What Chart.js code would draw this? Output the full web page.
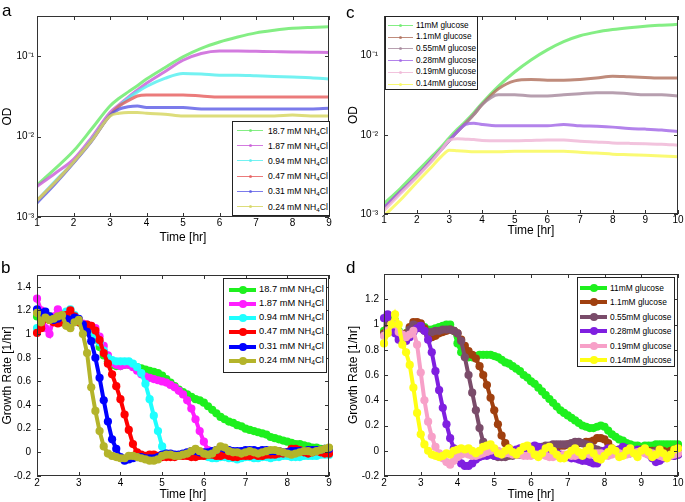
<!DOCTYPE html>
<html><head><meta charset="utf-8">
<script src="https://cdn.jsdelivr.net/npm/chart.js@4.4.1/dist/chart.umd.min.js"></script>
<style>
body{margin:0;background:#fff;width:685px;height:502px;position:relative;overflow:hidden;font-family:"Liberation Sans",Arial,sans-serif;color:#000;}
canvas{position:absolute;}
.plabel{position:absolute;font-size:17px;line-height:1;}
.leg{position:absolute;background:#fff;border:1px solid #222;box-sizing:border-box;}
.leg sub{font-size:72%;vertical-align:-0.3em;line-height:0;}
</style></head><body>
<canvas id="ca" width="340" height="250" style="left:0;top:0"></canvas>
<canvas id="cc" width="345" height="250" style="left:340px;top:0"></canvas>
<canvas id="cb" width="340" height="252" style="left:0;top:250px"></canvas>
<canvas id="cd" width="345" height="252" style="left:340px;top:250px"></canvas>
<div class="plabel" style="left:2px;top:2px">a</div>
<div class="plabel" style="left:346px;top:4px">c</div>
<div class="plabel" style="left:1px;top:259px">b</div>
<div class="plabel" style="left:346px;top:259px">d</div>
<script>
// ---------- DATA ----------
const labelsN = ['18.7 mM NH4Cl','1.87 mM NH4Cl','0.94 mM NH4Cl','0.47 mM NH4Cl','0.31 mM NH4Cl','0.24 mM NH4Cl'];
const labelsG = ['11mM glucose','1.1mM glucose','0.55mM glucose','0.28mM glucose','0.19mM glucose','0.14mM glucose'];

// panel a: OD vs time (NH4Cl)
const timesA = [1,1.5,2,2.5,3,3.25,3.5,3.75,4,4.5,5,5.5,6,6.5,7,7.5,8,8.5,9];
const odA_18_7 = [0.0025,0.0040,0.0066,0.0125,0.024,0.030,0.036,0.043,0.052,0.072,0.098,0.125,0.150,0.173,0.195,0.210,0.222,0.228,0.232];
const odA_1_87 = [0.0024,0.0035,0.0052,0.0098,0.020,0.025,0.031,0.038,0.046,0.064,0.089,0.108,0.116,0.116,0.115,0.114,0.113,0.112,0.111];
const odA_0_94 = [0.0016,0.0028,0.0048,0.0092,0.0185,0.024,0.030,0.036,0.042,0.053,0.061,0.060,0.058,0.058,0.057,0.056,0.055,0.054,0.052];
const odA_0_47 = [0.0016,0.0027,0.0048,0.0090,0.0185,0.024,0.028,0.032,0.033,0.033,0.033,0.032,0.031,0.031,0.031,0.031,0.031,0.031,0.031];
const odA_0_31 = [0.0015,0.0026,0.0047,0.0088,0.0183,0.022,0.0235,0.024,0.023,0.023,0.023,0.022,0.022,0.022,0.022,0.022,0.022,0.022,0.0225];
const odA_0_24 = [0.0016,0.0027,0.0048,0.0089,0.0180,0.0195,0.020,0.020,0.0195,0.019,0.018,0.018,0.018,0.018,0.018,0.018,0.0185,0.018,0.018];

// panel c: OD vs time (glucose)
const timesC = [1,1.5,2,2.5,2.75,3,3.25,3.5,3.75,4,4.5,5,5.5,6,6.5,7,7.5,8,8.5,9,9.5,10];
const odC_11 = [0.00135,0.0021,0.0034,0.0055,0.0070,0.0092,0.0118,0.0148,0.019,0.025,0.041,0.062,0.088,0.118,0.150,0.178,0.198,0.213,0.225,0.235,0.242,0.248];
const odC_1_1 = [0.0012,0.0019,0.0030,0.0050,0.0065,0.0085,0.011,0.014,0.018,0.024,0.038,0.048,0.050,0.049,0.049,0.050,0.052,0.055,0.054,0.053,0.052,0.052];
const odC_0_55 = [0.0012,0.0019,0.0030,0.0050,0.0065,0.0085,0.011,0.014,0.018,0.024,0.032,0.032,0.031,0.031,0.032,0.033,0.034,0.034,0.033,0.032,0.032,0.031];
const odC_0_28 = [0.0012,0.0019,0.0030,0.0050,0.0065,0.0085,0.011,0.0135,0.014,0.0135,0.013,0.013,0.013,0.013,0.0135,0.013,0.0128,0.0125,0.012,0.0118,0.0115,0.011];
const odC_0_19 = [0.0011,0.0018,0.0029,0.0048,0.0064,0.0085,0.0089,0.0088,0.0087,0.0085,0.0084,0.0084,0.0085,0.0086,0.0086,0.0083,0.0081,0.0079,0.0078,0.0077,0.0076,0.0074];
const odC_0_14 = [0.00095,0.0015,0.0025,0.0041,0.0053,0.0064,0.0063,0.0062,0.0061,0.0061,0.0061,0.0062,0.0062,0.0062,0.0062,0.0060,0.0059,0.0057,0.0056,0.0055,0.0054,0.0053];

// panel b: growth rate (NH4Cl)
const timesB = [2.0,2.1,2.2,2.3,2.4,2.5,2.6,2.7,2.8,2.9,3.0,3.1,3.2,3.3,3.4,3.5,3.6,3.7,3.8,3.9,4.0,4.1,4.2,4.3,4.4,4.5,4.6,4.7,4.8,4.9,5.0,5.1,5.2,5.3,5.4,5.5,5.6,5.7,5.8,5.9,6.0,6.1,6.2,6.3,6.4,6.5,6.6,6.7,6.8,6.9,7.0,7.1,7.2,7.3,7.4,7.5,7.6,7.7,7.8,7.9,8.0,8.1,8.2,8.3,8.4,8.5,8.6,8.7,8.8,8.9,9.0];
const rateB_18_7 = [1.15,1.16,1.17,1.15,1.14,1.15,1.16,1.17,1.16,1.13, 1.10,1.07,1.05,1.02,0.96,0.89,0.82,0.77,0.74,0.73, 0.73,0.74,0.74,0.73,0.72,0.71,0.70,0.69,0.68,0.67, 0.65,0.62,0.59,0.56,0.53,0.51,0.49,0.47,0.45,0.44, 0.42,0.39,0.36,0.33,0.30,0.28,0.26,0.25,0.23,0.22, 0.20,0.19,0.18,0.17,0.16,0.15,0.13,0.12,0.11,0.10, 0.09,0.08,0.07,0.07,0.06,0.05,0.04,0.04,0.03,0.03, 0.03];
const rateB_1_87 = [1.30,1.20,1.05,1.00,1.15,1.21,1.17,1.10,1.13,1.15, 1.12,1.09,1.08,1.07,1.05,0.98,0.90,0.82,0.76,0.74, 0.73,0.74,0.74,0.72,0.69,0.66,0.64,0.63,0.62,0.61, 0.60,0.59,0.57,0.55,0.52,0.49,0.44,0.37,0.28,0.18, 0.09,0.02,-0.01,-0.01,0.00,0.01,0.00,-0.01,-0.02,-0.01, 0.00,0.01,0.01,0.00,-0.01,-0.01,0.00,0.00,-0.01,-0.01, 0.00,0.01,0.00,-0.01,0.00,0.00,0.01,0.01,0.00,0.01, 0.02];
const rateB_0_94 = [1.05,1.12,1.15,1.13,1.12,1.12,1.14,1.19,1.21,1.16, 1.10,1.07,1.05,1.03,0.99,0.93,0.86,0.80,0.78,0.77, 0.77,0.77,0.77,0.75,0.72,0.67,0.58,0.45,0.31,0.18, 0.05,-0.01,-0.02,-0.03,-0.03,-0.02,-0.02,-0.03,-0.03,-0.02, -0.03,-0.04,-0.05,-0.05,-0.04,-0.04,-0.05,-0.05,-0.06,-0.05, -0.04,-0.04,-0.05,-0.05,-0.04,-0.04,-0.05,-0.04,-0.04,-0.03, -0.03,-0.04,-0.04,-0.04,-0.03,-0.03,-0.03,-0.03,-0.02,-0.02, -0.02];
const rateB_0_47 = [1.01,1.05,1.13,1.12,1.10,1.09,1.10,1.16,1.20,1.15, 1.10,1.07,1.08,1.07,1.03,0.95,0.84,0.75,0.66,0.56, 0.45,0.32,0.19,0.07,0.00,-0.02,-0.03,-0.02,-0.02,-0.03, -0.04,-0.04,-0.04,-0.04,-0.03,-0.03,-0.03,-0.04,-0.04,-0.03, -0.03,-0.02,-0.02,-0.03,-0.03,-0.02,-0.03,-0.04,-0.04,-0.03, -0.03,-0.03,-0.02,-0.03,-0.03,-0.02,-0.02,-0.02,-0.01,-0.01, 0.00,0.03,0.03,0.02,0.00,-0.01,0.00,0.01,0.00,-0.01, -0.01];
const rateB_0_31 = [1.21,1.18,1.19,1.15,1.12,1.13,1.15,1.13,1.12,1.14, 1.13,1.08,1.02,0.94,0.80,0.63,0.44,0.26,0.11,0.03, -0.04,-0.07,-0.06,-0.05,-0.04,-0.04,-0.05,-0.05,-0.05,-0.04, -0.02,-0.01,-0.01,-0.02,-0.02,-0.01,0.00,0.01,0.01,0.00, 0.00,0.00,0.01,0.02,0.04,0.03,0.02,0.01,0.01,0.01, 0.02,0.02,0.02,0.01,0.02,0.02,0.01,0.01,0.01,0.00, 0.00,0.01,0.01,0.01,0.01,0.02,0.02,0.02,0.02,0.03, 0.03];
const rateB_0_24 = [1.18,1.10,1.14,1.12,1.13,1.15,1.16,1.07,1.05,1.10, 1.12,1.00,0.84,0.55,0.35,0.18,0.05,-0.01,-0.03,-0.04, -0.05,-0.05,-0.03,-0.03,-0.04,-0.05,-0.06,-0.07,-0.07,-0.06, -0.03,-0.02,-0.02,-0.03,-0.03,-0.02,-0.01,0.01,0.03,0.01, -0.01,-0.02,-0.01,0.02,0.05,0.04,0.01,0.00,0.00,-0.01, 0.00,0.01,0.00,-0.01,0.00,0.01,0.02,0.02,0.01,0.00, -0.01,-0.02,-0.01,0.00,0.01,0.01,0.00,0.01,0.02,0.03, 0.04];

// panel d: growth rate (glucose)
const timesD = [2.0,2.1,2.2,2.3,2.4,2.5,2.6,2.7,2.8,2.9,3.0,3.1,3.2,3.3,3.4,3.5,3.6,3.7,3.8,3.9,4.0,4.1,4.2,4.3,4.4,4.5,4.6,4.7,4.8,4.9,5.0,5.1,5.2,5.3,5.4,5.5,5.6,5.7,5.8,5.9,6.0,6.1,6.2,6.3,6.4,6.5,6.6,6.7,6.8,6.9,7.0,7.1,7.2,7.3,7.4,7.5,7.6,7.7,7.8,7.9,8.0,8.1,8.2,8.3,8.4,8.5,8.6,8.7,8.8,8.9,9.0,9.1,9.2,9.3,9.4,9.5,9.6,9.7,9.8,9.9,10.0];
const rateD_11 = [0.95,1.02,1.05,1.03,0.95,0.92,0.93,0.97,1.00,1.01, 1.00,0.98,0.96,0.96,0.97,0.98,0.99,1.00,1.00,0.95, 0.85,0.78,0.75,0.74,0.74,0.75,0.76,0.76,0.76,0.76, 0.75,0.74,0.72,0.70,0.69,0.67,0.65,0.63,0.60,0.58, 0.55,0.53,0.50,0.47,0.44,0.41,0.38,0.35,0.32,0.30, 0.28,0.26,0.24,0.22,0.20,0.19,0.18,0.18,0.19,0.20, 0.19,0.16,0.13,0.11,0.09,0.08,0.06,0.05,0.04,0.04, 0.03,0.04,0.04,0.04,0.05,0.05,0.05,0.05,0.05,0.05, 0.05];
const rateD_1_1 = [0.93,0.98,1.00,0.97,0.92,0.90,0.93,0.98,1.02,1.02, 1.01,0.97,0.92,0.90,0.91,0.93,0.94,0.95,0.96,0.95, 0.93,0.88,0.83,0.79,0.76,0.73,0.67,0.60,0.52,0.42, 0.32,0.21,0.12,0.06,0.02,-0.01,-0.03,-0.03,-0.03,-0.02, -0.02,-0.01,0.00,0.00,0.01,0.02,0.03,0.03,0.04,0.04, 0.05,0.05,0.06,0.06,0.06,0.07,0.07,0.08,0.10,0.10, 0.09,0.06,0.02,0.00,-0.01,-0.02,-0.02,-0.01,0.00,0.00, 0.01,0.01,0.00,0.00,0.00,0.01,0.00,-0.01,0.00,0.01, 0.02];
const rateD_0_55 = [0.92,1.00,1.02,0.98,0.93,0.90,0.92,0.96,1.00,0.99, 0.97,0.95,0.94,0.94,0.95,0.95,0.96,0.96,0.96,0.95, 0.93,0.87,0.74,0.60,0.46,0.32,0.18,0.07,0.02,-0.02, -0.04,-0.05,-0.05,-0.05,-0.04,-0.04,-0.03,-0.03,-0.02,-0.01, 0.00,0.01,0.02,0.03,0.04,0.04,0.05,0.05,0.05,0.05, 0.05,0.06,0.07,0.07,0.06,0.05,0.04,0.02,0.01,0.00, 0.00,-0.01,-0.01,0.00,0.01,0.00,-0.01,-0.02,-0.01,0.00, 0.00,-0.01,-0.02,-0.01,0.00,-0.01,-0.02,-0.03,-0.04,-0.04, -0.03];
const rateD_0_28 = [1.05,1.08,1.00,0.93,0.88,0.86,0.87,0.90,0.94,0.97, 0.99,0.95,0.88,0.78,0.63,0.48,0.34,0.21,0.10,0.02, -0.05,-0.10,-0.12,-0.12,-0.10,-0.07,-0.05,-0.04,-0.04,-0.03, -0.04,-0.04,-0.03,-0.02,-0.01,0.00,0.01,0.02,0.01,0.02, 0.03,0.04,0.03,0.02,0.01,0.00,0.00,-0.02,-0.03,-0.04, -0.05,-0.06,-0.06,-0.07,-0.08,-0.08,-0.09,-0.10,-0.10,-0.05, 0.00,0.02,0.01,0.00,0.01,0.03,0.02,0.00,0.00,0.01, 0.00,-0.01,-0.03,-0.06,-0.09,-0.08,-0.06,-0.05,-0.04,-0.04, -0.03];
const rateD_0_19 = [0.91,0.95,1.00,1.00,0.94,0.92,0.90,0.92,0.95,0.84, 0.62,0.40,0.23,0.11,0.03,-0.02,-0.06,-0.09,-0.11,-0.08, -0.05,-0.03,-0.02,-0.03,-0.04,-0.04,-0.03,-0.02,-0.01,0.00, 0.01,0.00,-0.01,-0.02,-0.02,-0.03,-0.03,-0.03,-0.04,-0.04, -0.04,-0.03,-0.03,-0.03,-0.04,-0.05,-0.05,-0.04,-0.04,-0.03, -0.03,-0.04,-0.04,-0.03,-0.02,-0.02,-0.03,-0.03,-0.02,-0.02, -0.03,-0.04,-0.03,-0.02,-0.02,-0.03,-0.03,-0.02,-0.02,-0.01, -0.01,-0.02,-0.03,-0.02,-0.03,-0.04,-0.05,-0.05,-0.04,-0.03, -0.02];
const rateD_0_14 = [0.85,0.93,1.00,1.08,1.00,0.84,0.78,0.68,0.50,0.30, 0.13,0.05,0.00,-0.03,-0.04,-0.05,-0.04,-0.02,-0.03,0.00, 0.01,0.02,0.01,0.02,0.00,-0.02,0.00,0.03,0.04,0.05, 0.02,-0.02,-0.03,0.00,0.02,-0.01,-0.03,0.00,0.03,0.04, 0.01,-0.03,-0.05,-0.02,0.02,0.03,0.00,-0.03,-0.06,-0.06, -0.03,0.00,0.02,-0.01,-0.04,0.00,0.03,-0.02,-0.06,-0.07, -0.04,-0.01,0.02,0.00,-0.05,-0.04,0.00,0.02,-0.02,-0.05, 0.00,0.02,-0.01,-0.05,-0.03,0.01,-0.02,-0.06,-0.03,0.01, 0.02];

// tick values / labels
const timeTicksA = [1,2,3,4,5,6,7,8,9];
const timeTicksC = [1,2,3,4,5,6,7,8,9,10];
const timeTicksB = [2,3,4,5,6,7,8,9];
const timeTicksD = [2,3,4,5,6,7,8,9,10];
const odTicks = [0.001,0.01,0.1];
const odTickLabels = ['10\u207B\u00B3','10\u207B\u00B2','10\u207B\u00B9'];
const rateTicksB = [-0.2,0,0.2,0.4,0.6,0.8,1,1.2,1.4];
const rateTicksD = [-0.2,0,0.2,0.4,0.6,0.8,1,1.2];

// ---------- STYLE ----------
const colA = ['rgba(110,235,110,0.85)','rgba(200,90,215,0.8)','rgba(90,240,240,0.85)','rgba(230,90,90,0.8)','rgba(90,90,230,0.8)','rgba(215,215,100,0.85)'];
const colC = ['rgba(110,235,110,0.85)','rgba(175,110,90,0.8)','rgba(165,135,155,0.8)','rgba(160,100,230,0.8)','rgba(240,185,215,0.85)','rgba(250,250,100,0.9)'];
const colB = ['#1ef01e','#ff1eff','#1effff','#ff0000','#0000ff','#b4b42a'];
const colD = ['#1ef01e','#a0400f','#7a4c6a','#7f1fe0','#f7a0c8','#ffff14'];

Chart.defaults.font.family = "'Liberation Sans', Arial, sans-serif";
Chart.defaults.color = '#000';

const framePlugin = {
  id:'frame',
  afterDraw(chart){
    const {ctx, chartArea:a, scales:{x,y}} = chart;
    ctx.save();
    ctx.strokeStyle = '#333'; ctx.lineWidth = 1;
    ctx.strokeRect(Math.round(a.left)+0.5, Math.round(a.top)+0.5, Math.round(a.right-a.left)-1, Math.round(a.bottom-a.top)-1);
    const L = 4;
    ctx.beginPath();
    x.ticks.forEach(t=>{const p=Math.round(x.getPixelForValue(t.value))+0.5; ctx.moveTo(p,a.bottom); ctx.lineTo(p,a.bottom-L); ctx.moveTo(p,a.top); ctx.lineTo(p,a.top+L);});
    y.ticks.forEach(t=>{const p=Math.round(y.getPixelForValue(t.value))+0.5; ctx.moveTo(a.left,p); ctx.lineTo(a.left+L,p); ctx.moveTo(a.right,p); ctx.lineTo(a.right-L,p);});
    ctx.stroke();
    ctx.restore();
  }
};

function panel(id, o){
  const datasets = o.series.map((vals,i)=>({
    label:o.labels[i],
    data: vals.map((v,j)=>({x:o.times[j], y:v})),
    borderColor:o.colors[i], backgroundColor:o.colors[i], pointBackgroundColor:o.colors[i],
    borderWidth:o.lw, pointRadius:o.pr, pointBorderWidth:0, pointHoverRadius:o.pr,
    tension:o.tension, cubicInterpolationMode:o.cubic || 'default',
    order:o.series.length - i, clip:o.clip
  }));
  return new Chart(document.getElementById(id), {
    type:'line',
    data:{datasets},
    options:{
      responsive:false, animation:false, devicePixelRatio:1,
      layout:{padding:o.pad},
      plugins:{legend:{display:false}, tooltip:{enabled:false}},
      scales:{
        x:{type:'linear', min:o.xmin, max:o.xmax,
          afterBuildTicks(s){ s.ticks = o.xticks.map(v=>({value:v})); },
          ticks:{callback:(v)=>String(v), padding:o.xpad, font:{size:10}, maxRotation:0, autoSkip:false, color:'#000'},
          grid:{display:false, drawTicks:false}, border:{display:false},
          title:{display:true, text:'Time [hr]', font:{size:12}, color:'#000', padding:{top:0,bottom:o.xtp}},
          afterFit(s){ s.height = o.xH; }
        },
        y:{type:o.ytype, min:o.ymin, max:o.ymax,
          afterBuildTicks(s){ s.ticks = o.yticks.map(v=>({value:v})); },
          ticks:{callback:(v,i)=>o.ylabels[i], padding:o.ypad, font:{size:10}, autoSkip:false, color:'#000'},
          grid:{display:false, drawTicks:false}, border:{display:false},
          title:{display:true, text:o.ytitle, font:{size:12}, color:'#000', padding:{top:o.ytp,bottom:0}},
          afterFit(s){ s.width = o.yW; }
        }
      }
    },
    plugins:[framePlugin]
  });
}

panel('ca', {times:timesA, series:[odA_18_7,odA_1_87,odA_0_94,odA_0_47,odA_0_31,odA_0_24], labels:labelsN, colors:colA,
  lw:3, pr:0, tension:0.4, cubic:'monotone', clip:0,
  pad:{left:0,top:16,right:11,bottom:0}, xmin:1, xmax:9, xticks:timeTicksA, xpad:0, xtp:5, xH:33,
  ytype:'logarithmic', ymin:0.001, ymax:Math.pow(10,-0.5), yticks:odTicks, ylabels:odTickLabels, ypad:3, ytitle:'OD', ytp:0, yW:37});

panel('cc', {times:timesC, series:[odC_11,odC_1_1,odC_0_55,odC_0_28,odC_0_19,odC_0_14], labels:labelsG, colors:colC,
  lw:3, pr:0, tension:0.4, cubic:'monotone', clip:0,
  pad:{left:0,top:16,right:7,bottom:0}, xmin:1, xmax:10, xticks:timeTicksC, xpad:0, xtp:12, xH:36,
  ytype:'logarithmic', ymin:0.001, ymax:Math.pow(10,-0.5), yticks:odTicks, ylabels:odTickLabels, ypad:6, ytitle:'OD', ytp:6, yW:44});

panel('cb', {times:timesB, series:[rateB_18_7,rateB_1_87,rateB_0_94,rateB_0_47,rateB_0_31,rateB_0_24], labels:labelsN, colors:colB,
  lw:4, pr:4.1, tension:0, clip:4,
  pad:{left:0,top:25,right:11,bottom:0}, xmin:2, xmax:9, xticks:timeTicksB, xpad:1, xtp:0, xH:26,
  ytype:'linear', ymin:-0.2, ymax:1.5, yticks:rateTicksB, ylabels:rateTicksB.map(String), ypad:6, ytitle:'Growth Rate [1/hr]', ytp:0, yW:37});

panel('cd', {times:timesD, series:[rateD_11,rateD_1_1,rateD_0_55,rateD_0_28,rateD_0_19,rateD_0_14], labels:labelsG, colors:colD,
  lw:4, pr:4.1, tension:0, clip:4,
  pad:{left:0,top:24,right:7,bottom:0}, xmin:2, xmax:10, xticks:timeTicksD, xpad:1, xtp:0, xH:26,
  ytype:'linear', ymin:-0.2, ymax:1.4, yticks:rateTicksD, ylabels:rateTicksD.map(String), ypad:5, ytitle:'Growth Rate [1/hr]', ytp:6, yW:44});

// ---------- LEGENDS (HTML, built from label / colour arrays) ----------
function legend(cfg){
  const box = document.createElement('div');
  box.className = 'leg';
  box.style.cssText = `left:${cfg.left}px;top:${cfg.top}px;width:${cfg.width}px;height:${cfg.height}px;`;
  cfg.labels.forEach((lab,i)=>{
    const cy = cfg.first + i*cfg.step;
    const line = document.createElement('div');
    line.style.cssText = `position:absolute;left:${cfg.x0}px;width:${cfg.x1-cfg.x0}px;top:${cy-cfg.lw/2}px;height:${cfg.lw}px;background:${cfg.colors[i]};`;
    box.appendChild(line);
    const dot = document.createElement('div');
    const cx = (cfg.x0+cfg.x1)/2;
    dot.style.cssText = `position:absolute;left:${cx-cfg.dot/2}px;top:${cy-cfg.dot/2}px;width:${cfg.dot}px;height:${cfg.dot}px;border-radius:50%;background:${cfg.colors[i]};`;
    box.appendChild(dot);
    const t = document.createElement('div');
    t.style.cssText = `position:absolute;left:${cfg.tx}px;top:${cy}px;transform:translateY(-50%);font-size:${cfg.font}px;line-height:1;white-space:nowrap;`;
    t.innerHTML = lab.replace('NH4Cl','NH<sub>4</sub>Cl');
    box.appendChild(t);
  });
  document.body.appendChild(box);
}
legend({left:232, top:121, width:98, height:95, first:8.5, step:15.2, x0:4, x1:30, tx:35, lw:1, dot:3, font:8.6, labels:labelsN, colors:colA});
legend({left:223, top:278, width:104, height:95, first:10.5, step:14.3, x0:5, x1:32, tx:35, lw:4, dot:8, font:9.3, labels:labelsN, colors:colB});
legend({left:385, top:16, width:93, height:74, first:8.5, step:11.7, x0:2, x1:27, tx:30, lw:1, dot:3, font:8.2, labels:labelsG, colors:colC});
legend({left:577, top:277, width:98, height:90, first:9.5, step:14.5, x0:2, x1:29, tx:32, lw:4, dot:8, font:8.4, labels:labelsG, colors:colD});
</script>
</body></html>
